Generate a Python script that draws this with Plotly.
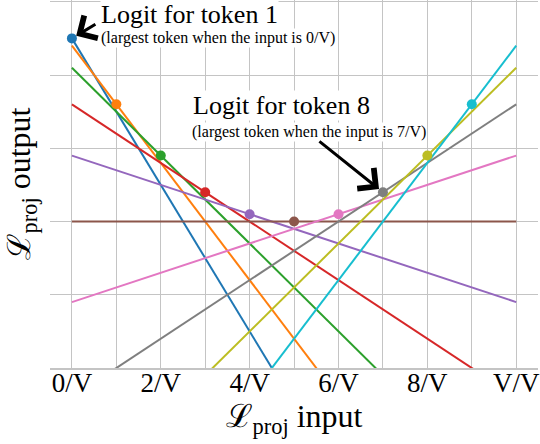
import plotly.graph_objects as go

# ---- data ----
tokens = [1, 2, 3, 4, 5, 6, 7, 8, 9, 10]
argmax_input = [0, 1, 2, 3, 4, 5, 6, 7, 8, 9]          # input where each token's logit is largest
peak_logit = [25, 16, 9, 4, 1, 0, 1, 4, 9, 16]         # logit value at that input
logit_at_0 = [25, 24, 21, 16, 9, 0, -11, -24, -39, -56]   # logit at input 0/V
logit_at_V = [-75, -56, -39, -24, -11, 0, 9, 16, 21, 24]  # logit at input V/V
input_ends = [0, 10]

x_tickvals = [0, 1, 2, 3, 4, 5, 6, 7, 8, 9, 10]
x_ticktext = ["0/V", "", "2/V", "", "4/V", "", "6/V", "", "8/V", "", "V/V"]
y_gridvals = [-20, -10, 0, 10, 20, 30]

colors = ["#1f77b4", "#ff7f0e", "#2ca02c", "#d62728", "#9467bd",
          "#8c564b", "#e377c2", "#7f7f7f", "#bcbd22", "#17becf"]

FONT = "Liberation Serif, DejaVu Serif, serif"
GRID = "#c4c4c4"

fig = go.Figure()
for i, t in enumerate(tokens):
    fig.add_trace(go.Scatter(
        x=input_ends, y=[logit_at_0[i], logit_at_V[i]],
        mode="lines", line=dict(color=colors[i], width=2),
        name=f"token {t}", showlegend=False, hoverinfo="skip"))

fig.add_trace(go.Scatter(
    x=argmax_input, y=peak_logit, mode="markers",
    marker=dict(color=colors, size=10, line=dict(width=0)),
    showlegend=False, cliponaxis=False))

fig.update_layout(
    width=540, height=444,
    margin=dict(l=50, r=0, t=0, b=76),
    plot_bgcolor="white", paper_bgcolor="white",
    font=dict(family=FONT, color="black"),
    xaxis=dict(range=[-0.493, 10.49], tickvals=x_tickvals, ticktext=x_ticktext,
               showgrid=True, gridcolor=GRID, gridwidth=1, zeroline=False,
               showline=True, linecolor=GRID, linewidth=1.5, ticks="",
               ticklabelstandoff=-10, ticklabeloverflow="allow",
               tickfont=dict(size=27, family=FONT),
               title=dict(text="ℒ<sub>proj</sub> input", font=dict(size=32, family=FONT),
                          standoff=0)),
    yaxis=dict(range=[-20, 30.24], tickvals=y_gridvals, showticklabels=False,
               showgrid=True, gridcolor=GRID, gridwidth=1, zeroline=False,
               ticks="",
               title=dict(text="ℒ<sub>proj</sub> output", font=dict(size=32, family=FONT),
                          standoff=8)),
)

def label(x, y, text, size):
    fig.add_annotation(x=x, y=y, xref="x", yref="y", text=text, showarrow=False,
                       xanchor="left", yanchor="middle", bgcolor="white",
                       borderpad=0, font=dict(size=size, family=FONT, color="black"))

label(0.63, 28.2, "Logit for token 1", 26)
label(0.63, 25.1, "(largest token when the input is 0/V)", 16)
label(2.71, 15.9, "Logit for token 8", 26)
label(2.69, 12.2, "(largest token when the input is 7/V)", 16)

# arrows pointing at the two highlighted points
fig.add_annotation(x=argmax_input[0], y=peak_logit[0], xref="x", yref="y", text="",
                   showarrow=True, ax=25, ay=-15, arrowhead=4, arrowsize=1.7,
                   arrowwidth=3, arrowcolor="black", standoff=5)
fig.add_annotation(x=argmax_input[7], y=peak_logit[7], xref="x", yref="y", text="",
                   showarrow=True, ax=-65, ay=-52, arrowhead=4, arrowsize=1.7,
                   arrowwidth=3, arrowcolor="black", standoff=5)

fig.write_html("out.html", config={"displayModeBar": False},
               post_script="document.body.style.margin='0px';")
